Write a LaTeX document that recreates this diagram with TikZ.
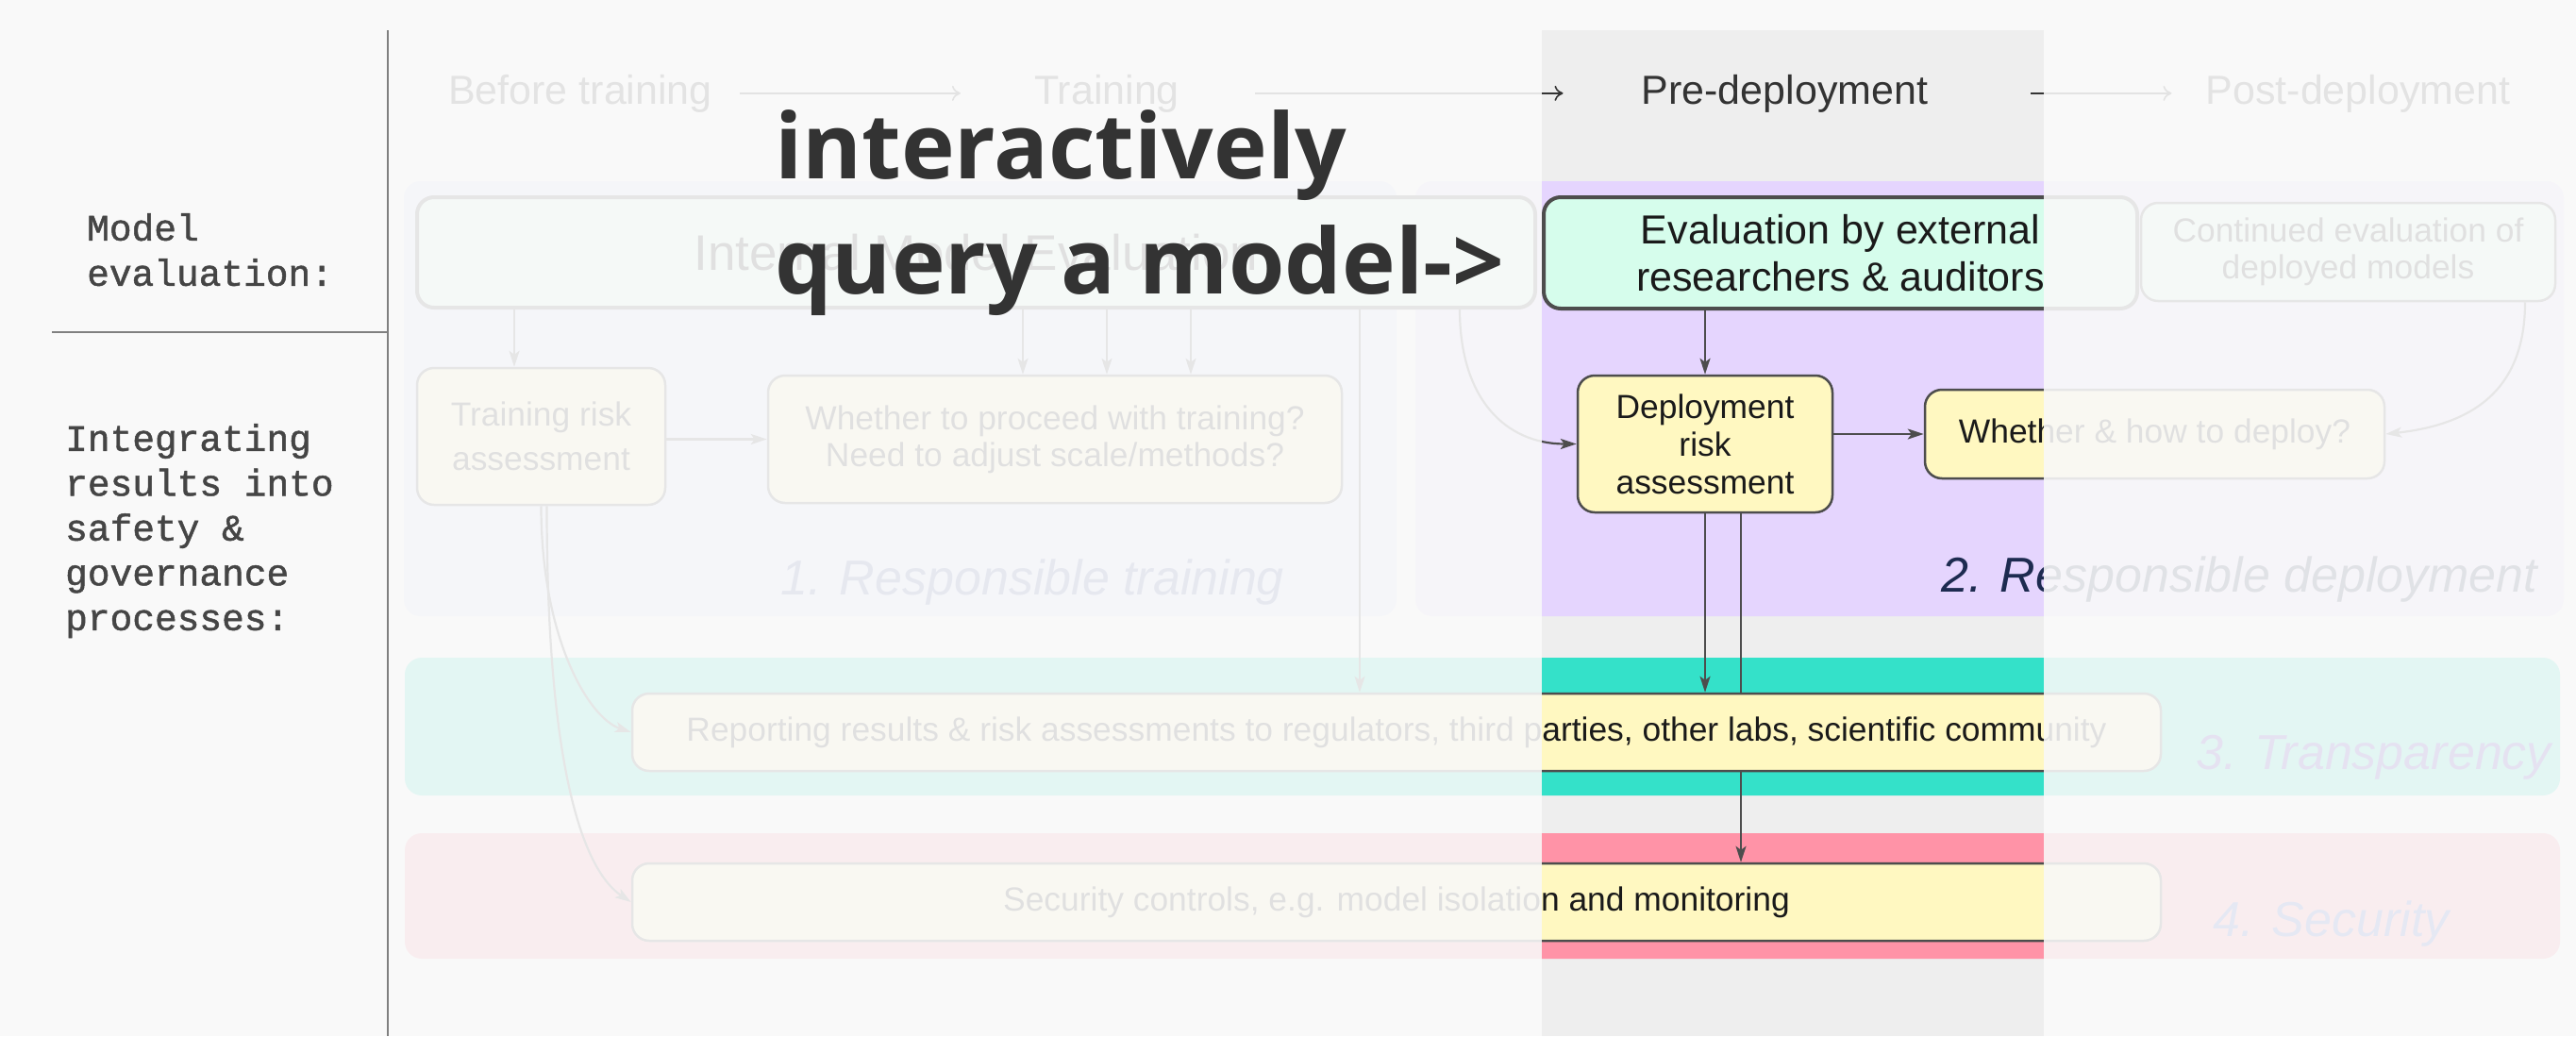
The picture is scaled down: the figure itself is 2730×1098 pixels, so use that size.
\documentclass[tikz,border=0pt]{standalone}
\usepackage{fontspec}
\setmainfont{Liberation Sans}
\newfontfamily\sidefont{Liberation Mono}[FakeBold=1.2]
\newfontfamily\calloutfont{Open Sans}
\usetikzlibrary{arrows.meta}

\definecolor{bgcol}{HTML}{F9F9F9}
\definecolor{colgray}{HTML}{EEEEEE}
\definecolor{trainblue}{HTML}{D5DEFF}
\definecolor{deploylilac}{HTML}{E5D5FE}
\definecolor{transteal}{HTML}{34E1C9}
\definecolor{secpink}{HTML}{FF93A7}
\definecolor{evalmint}{HTML}{D6FDEC}
\definecolor{riskyellow}{HTML}{FFF8C1}
\definecolor{edgecol}{HTML}{4D4D4D}
\definecolor{inkcol}{HTML}{1A1A1A}
\definecolor{headcol}{HTML}{333333}
\definecolor{sidecol}{HTML}{454545}
\definecolor{rulecol}{HTML}{808080}
\definecolor{navycol}{HTML}{1D2B50}
\definecolor{trainlbl}{HTML}{4C5FA7}
\definecolor{translbl}{HTML}{4A2CB8}
\definecolor{seclbl}{HTML}{435FCB}

\begin{document}
\begin{tikzpicture}[x=1pt,y=-1pt,
box/.style={draw=edgecol,line width=2.5pt,rounded corners=18pt,fill=riskyellow,text=inkcol,align=center,inner sep=0pt,font=\fontsize{35.4}{40}\selectfont},
evalbox/.style={box,fill=evalmint},
head/.style={anchor=base,inner sep=0pt,text=headcol,font=\fontsize{43}{50}\selectfont},
tag/.style={anchor=base west,inner sep=0pt,font=\itshape\fontsize{52}{60}\selectfont},
side/.style={anchor=north west,align=left,inner sep=0pt,text=sidecol},
arr/.style={draw=edgecol,line width=2.2pt,-{Stealth[length=17pt,width=11pt,inset=4pt]}},
hdarr/.style={draw=headcol,line width=1.6pt,-{To[length=9pt,width=16pt]}},
veil/.style={fill=bgcol,opacity=.89}
]
\useasboundingbox (0,0) rectangle (2730,1098);
\fill[bgcol] (0,0) rectangle (2730,1098);
\fill[colgray] (1634,32) rectangle (2166,1098);

\fill[trainblue,rounded corners=18pt] (428,192) rectangle (1480,653);
\fill[deploylilac,rounded corners=18pt] (1500,192) rectangle (2717,653);
\fill[transteal,rounded corners=18pt] (429,697) rectangle (2713,843);
\fill[secpink,rounded corners=18pt] (429,883) rectangle (2713,1016);

\node[head] (hb) at (615,110) {Before training};
\node[head] (ht) at (1173,110) {Training};
\node[head] (hp) at (1891.5,110) {Pre-deployment};
\node[head] (hpost) at (2499,110) {Post-deployment};
\draw[hdarr,shorten <=29pt,shorten >=78pt] (hb.east) -- (ht.west);
\draw[hdarr,shorten <=80pt,shorten >=83pt] (ht.east) -- (hp.west);
\draw[hdarr,shorten <=109pt,shorten >=36pt] (hp.east) -- (hpost.west);

\node[evalbox,line width=4pt,minimum width=1185pt,minimum height=117pt,font=\fontsize{53}{60}\selectfont] (ie) at (1034.5,267.5) {Internal Model Evaluation};
\node[evalbox,line width=4pt,minimum width=629pt,minimum height=118pt,font=\fontsize{43}{50}\selectfont] (ee) at (1950.5,268) {Evaluation by external\\researchers \& auditors};
\node[evalbox,minimum width=439pt,minimum height=104pt,font=\fontsize{35.4}{39}\selectfont] (ce) at (2488.5,267) {Continued evaluation of\\deployed models};
\node[box,minimum width=263pt,minimum height=145pt,font=\fontsize{35.4}{47}\selectfont] (tr) at (573.5,462.5) {Training risk\\assessment};
\node[box,minimum width=608pt,minimum height=135pt,font=\fontsize{35.4}{39}\selectfont] (wp) at (1118,465.5) {Whether to proceed with training?\\Need to adjust scale/methods?};
\node[box,minimum width=270pt,minimum height=145pt] (dr) at (1807,470.5) {Deployment\\risk\\assessment};
\node[box,minimum width=487pt,minimum height=94pt] (wd) at (2283.5,460) {Whether \& how to deploy?};
\node[box,minimum width=1620pt,minimum height=82pt] (sec) at (1480,956) {Security controls, e.g. model isolation and monitoring};

\draw[arr] ([xshift=-489.5pt]ie.south) -- ([xshift=-28.5pt]tr.north);
\foreach \a/\b in {49.5/-34,138.5/55,227.5/144}
  \draw[arr] ([xshift=\a pt]ie.south) -- ([xshift=\b pt]wp.north);
\draw[arr] ([xshift=512.5pt]ie.south) .. controls +(0,95) and +(-75,0) .. (dr.west);
\draw[arr] ([xshift=-143.5pt]ee.south) -- (dr.north);
\draw[arr] ([xshift=187.5pt]ce.south) .. controls +(0,95) and +(90,-10) .. (wd.east);
\draw[arr] (tr.east |- wp.west) -- (wp.west);
\draw[arr] (dr.east |- wd.west) -- (wd.west);
\draw[arr] ([xshift=38pt]dr.south) -- ([xshift=365pt]sec.north);
\draw[arr] ([xshift=6pt]tr.south) .. controls +(0,300) and +(-45,-30) .. (sec.west);

\node[box,minimum width=1620pt,minimum height=82pt] (rep) at (1480,776) {Reporting results \& risk assessments to regulators, third parties, other labs, scientific community};
\draw[arr] ([xshift=406.5pt]ie.south) -- ([xshift=-39pt]rep.north);
\draw[arr] (dr.south) -- (dr.south |- rep.north);
\draw[arr] (tr.south) .. controls +(0,140) and +(-45,-15) .. (rep.west);

\node[tag,text=trainlbl] (lt) at (827,630) {1. Responsible training};
\node[tag,text=navycol] (ld) at (2057,627) {2. Responsible deployment};
\node[tag,text=translbl] (lr) at (2327,815) {3. Transparency};
\node[tag,text=seclbl] (ls) at (2345,992) {4. Security};

\fill[veil] (413,0) rectangle (1634,1098);
\fill[veil] (2166,0) rectangle (2730,1098);

\draw[rulecol,line width=2.5pt] (411,32) -- (411,1098);
\draw[rulecol,line width=2.5pt] (55,352) -- (411,352);
\node[side,font=\sidefont\fontsize{39.5}{48}\selectfont] (sideEval) at (92,226) {Model\\evaluation:};
\node[side,font=\sidefont\fontsize{39.5}{47.5}\selectfont] (sideGov) at (69,449) {Integrating\\results into\\safety \&\\governance\\processes:};

\node[anchor=north west,align=left,inner sep=0pt,text=headcol,font=\calloutfont\bfseries\fontsize{96}{122}\selectfont] (callout) at (821,116) {interactively\\query a model->};
\end{tikzpicture}
\end{document}
